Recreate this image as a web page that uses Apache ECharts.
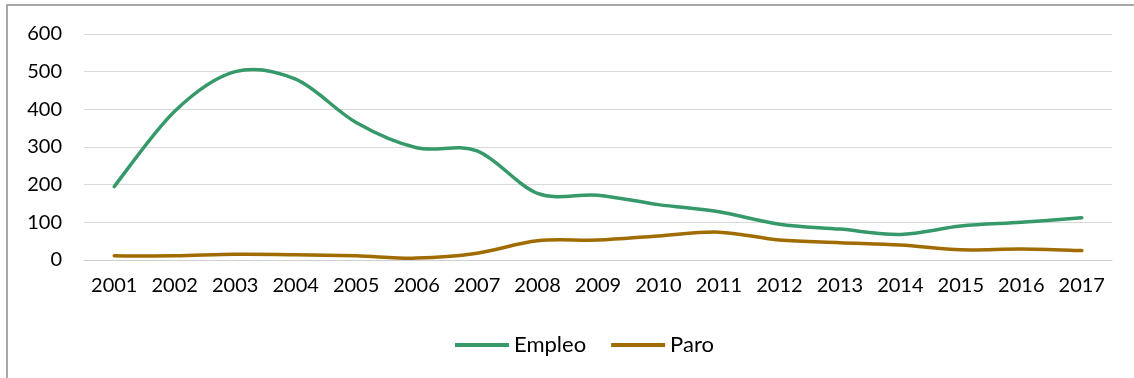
<!DOCTYPE html>
<html>
<head>
<meta charset="utf-8">
<script src="https://cdn.jsdelivr.net/npm/echarts@6/dist/echarts.min.js"></script>
<style>
  html, body { margin: 0; padding: 0; background: #fff; }
  #chart { width: 1134px; height: 378px; }
</style>
</head>
<body>
<div id="chart"></div>
<script>
// Years on the horizontal axis
const years = ['2001','2002','2003','2004','2005','2006','2007','2008','2009',
               '2010','2011','2012','2013','2014','2015','2016','2017'];
// Series values
const empleo = [195, 395, 500, 480, 365, 298, 290, 177, 172, 147, 128, 95, 82, 68, 90, 100, 112];
const paro   = [11, 11, 15, 14, 11, 5, 18, 51, 53, 64, 74, 53, 46, 40, 27, 29, 25];
// Value axis range
const yMin = 0, yMax = 600, yStep = 100;

const FONT = 'Lato';
const GREEN = '#36996a';
const BROWN = '#a06c00';

// Draws a Catmull-Rom smoothed line through every point of a series,
// using the chart's own axis scales to place each point.
function smoothLine(values, color) {
  return function (params, api) {
    if (params.dataIndex !== 0) return null;
    const pts = values.map((v, i) => api.coord([i, v]));
    let d = 'M' + pts[0][0] + ',' + pts[0][1];
    for (let i = 0; i < pts.length - 1; i++) {
      const p0 = pts[Math.max(i - 1, 0)];
      const p1 = pts[i];
      const p2 = pts[i + 1];
      const p3 = pts[Math.min(i + 2, pts.length - 1)];
      const c1x = p1[0] + (p2[0] - p0[0]) / 6;
      const c1y = p1[1] + (p2[1] - p0[1]) / 6;
      const c2x = p2[0] - (p3[0] - p1[0]) / 6;
      const c2y = p2[1] - (p3[1] - p1[1]) / 6;
      d += ' C' + c1x + ',' + c1y + ' ' + c2x + ',' + c2y + ' ' + p2[0] + ',' + p2[1];
    }
    return {
      type: 'path',
      shape: { pathData: d },
      style: { fill: 'none', stroke: color, lineWidth: 3.5, lineCap: 'round', lineJoin: 'round' },
      silent: true
    };
  };
}

const chart = echarts.init(document.getElementById('chart'));
chart.setOption({
  animation: false,
  backgroundColor: '#ffffff',
  textStyle: { fontFamily: FONT },
  graphic: [{
    type: 'rect',
    shape: { x: 7, y: 5, width: 1200, height: 500 },
    style: { fill: 'none', stroke: '#8c8c8c', lineWidth: 1.5 },
    silent: true
  }],
  grid: { left: 84, right: 22, top: 34, bottom: 118 },
  legend: {
    bottom: 17,
    left: 450,
    itemWidth: 54,
    itemHeight: 4,
    itemGap: 25,
    textStyle: { fontFamily: FONT, fontSize: 22, color: '#000' },
    data: [
      { name: 'Empleo', icon: 'rect' },
      { name: 'Paro', icon: 'rect' }
    ]
  },
  xAxis: {
    type: 'category',
    data: years,
    boundaryGap: true,
    axisLine: { show: true, lineStyle: { color: '#d0d0d0', width: 1 } },
    axisTick: { show: false },
    axisLabel: { fontFamily: FONT, fontSize: 20, color: '#000', margin: 16, interval: 0 }
  },
  yAxis: {
    type: 'value',
    min: yMin, max: yMax, interval: yStep,
    axisLine: { show: false },
    axisTick: { show: false },
    axisLabel: { fontFamily: FONT, fontSize: 20, color: '#000', margin: 22 },
    splitLine: { lineStyle: { color: '#d9d9d9', width: 1 } }
  },
  series: [
    {
      name: 'Empleo', type: 'custom',
      data: empleo.map((v, i) => [i, v]),
      encode: { x: 0, y: 1 },
      itemStyle: { color: GREEN },
      renderItem: smoothLine(empleo, GREEN)
    },
    {
      name: 'Paro', type: 'custom',
      data: paro.map((v, i) => [i, v]),
      encode: { x: 0, y: 1 },
      itemStyle: { color: BROWN },
      renderItem: smoothLine(paro, BROWN)
    }
  ]
});
</script>
</body>
</html>
